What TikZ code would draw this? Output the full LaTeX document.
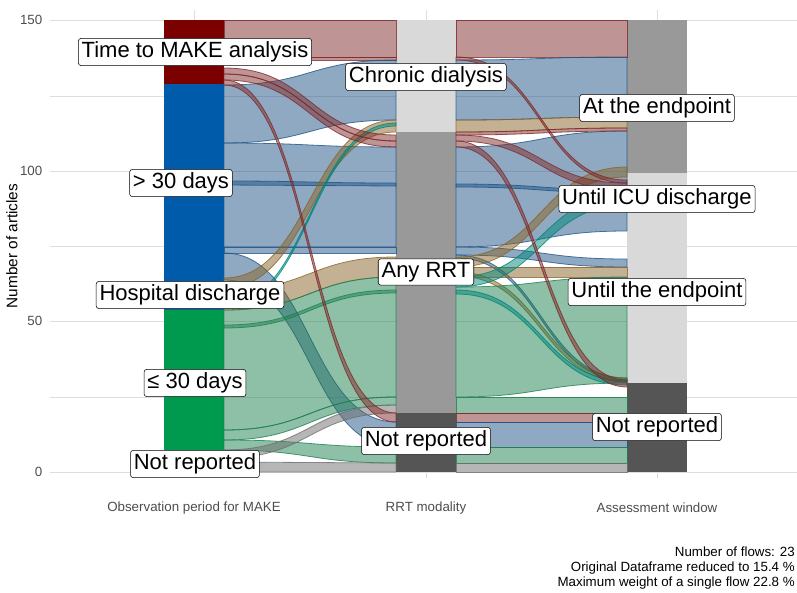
\documentclass[tikz,border=0pt]{standalone}
\usepackage{fontspec}
\setmainfont{Liberation Sans}
\usepackage{tikz}

\definecolor{redS}{HTML}{7B0000}
\definecolor{blueS}{HTML}{005BAA}
\definecolor{greenS}{HTML}{009A4E}
\definecolor{grayS}{HTML}{A0A0A0}
\definecolor{lightS}{HTML}{D9D9D9}
\definecolor{midS}{HTML}{999999}
\definecolor{darkS}{HTML}{555555}
\definecolor{redF}{HTML}{7E2A2A}
\definecolor{blueF}{HTML}{1F5485}
\definecolor{greenF}{HTML}{1E8050}
\definecolor{brownF}{HTML}{8A6428}
\definecolor{tealF}{HTML}{00857A}
\definecolor{grayF}{HTML}{6E6E6E}
\definecolor{gridC}{HTML}{DEDEDE}
\definecolor{axisC}{HTML}{4D4D4D}

% flows between the strata (pixel y values)
\newcommand{\flowA}[5]{\filldraw[fill=#5,fill opacity=.5,draw=#5,draw opacity=.8,line width=.6pt]
  (224,#1) .. controls (310,#1) and (310,#3) .. (396,#3) -- (396,#4)
  .. controls (310,#4) and (310,#2) .. (224,#2) -- cycle;}
\newcommand{\flowB}[5]{\filldraw[fill=#5,fill opacity=.5,draw=#5,draw opacity=.8,line width=.6pt]
  (456,#1) .. controls (541,#1) and (541,#3) .. (627,#3) -- (627,#4)
  .. controls (541,#4) and (541,#2) .. (456,#2) -- cycle;}

\begin{document}
\begin{tikzpicture}[x=0.75pt,y=-0.75pt,
  stratlabel/.style={draw=black,fill=white,rounded corners=2pt,font=\fontsize{16.5}{18}\selectfont,inner sep=2.5pt},
  ticklabel/.style={font=\fontsize{10}{12}\selectfont,text=axisC}]
\useasboundingbox (0,0) rectangle (797,593);

% Grid
\foreach \y in {20,96,171,246,321,397,472}
  \draw[gridC,line width=.6pt] (50,\y) -- (797,\y);
\foreach \x in {194,426,657}
  \draw[gridC,line width=.6pt] (\x,10) -- (\x,478);

% Strata
\fill[redS] (164,20) rectangle (224,84);
\fill[blueS] (164,84) rectangle (224,310);
\fill[greenS] (164,310) rectangle (224,450);
\fill[grayS] (164,450) rectangle (224,472);
\fill[lightS] (396,20) rectangle (456,132);
\fill[midS] (396,132) rectangle (456,413);
\fill[darkS] (396,413) rectangle (456,472);
\fill[midS] (627,20) rectangle (687,173);
\fill[lightS] (627,173) rectangle (687,383);
\fill[darkS] (627,383) rectangle (687,472);

% Flows, first stage
\flowA{20}{57}{20}{57}{redF}
\flowA{57}{60}{57}{60}{redF}
\flowA{85}{143}{60}{120}{blueF}
\flowA{143}{247}{147}{247}{blueF}
\flowA{181}{185}{183}{186}{blueF}
\flowA{247}{253}{247}{253}{blueF}
\flowA{253}{280}{422}{447}{blueF}
\flowA{278}{288}{120}{132}{brownF}
\flowA{290}{310}{257}{277}{brownF}
\flowA{305}{308}{123}{126}{tealF}
\flowA{310}{430}{277}{397}{greenF}
\flowA{325}{328}{290}{293}{greenF}
\flowA{430}{440}{397}{405}{greenF}
\flowA{440}{450}{447}{463}{greenF}
\flowA{450}{458}{405}{413}{grayF}
\flowA{462}{472}{463}{472}{grayF}
\flowA{68}{74}{135}{141}{redF}
\flowA{74}{80}{141}{147}{redF}
\flowA{80}{85}{413}{422}{redF}

% Flows, second stage
\flowB{20}{57}{20}{57}{redF}
\flowB{60}{120}{57}{117}{blueF}
\flowB{147}{247}{131}{231}{blueF}
\flowB{184}{187}{190}{193}{blueF}
\flowB{247}{255}{259}{267}{blueF}
\flowB{255}{258}{378}{381}{blueF}
\flowB{120}{132}{117}{128}{brownF}
\flowB{257}{267}{167}{177}{brownF}
\flowB{267}{277}{267}{277}{brownF}
\flowB{272}{276}{378}{382}{brownF}
\flowB{287}{397}{277}{383}{greenF}
\flowB{277}{287}{195}{205}{tealF}
\flowB{290}{294}{381}{385}{tealF}
\flowB{397}{413}{397}{413}{greenF}
\flowB{413}{422}{413}{422}{redF}
\flowB{422}{447}{422}{447}{blueF}
\flowB{447}{463}{447}{463}{greenF}
\flowB{463}{472}{463}{472}{grayF}
\flowB{57}{60}{180}{183}{redF}
\flowB{132}{135}{128}{131}{redF}
\flowB{135}{141}{183}{190}{redF}
\flowB{141}{147}{380}{387}{redF}

% Stratum labels
\node[stratlabel] (time) at (195,52) {Time to MAKE analysis};
\node[stratlabel] (long) at (181,183) {> 30 days};
\node[stratlabel] (hosp) at (190,295) {Hospital discharge};
\node[stratlabel] (short) at (195,383) {≤ 30 days};
\node[stratlabel] (nrA) at (195,464) {Not reported};
\node[stratlabel] (chronic) at (426,77) {Chronic dialysis};
\node[stratlabel] (anyrrt) at (426,272) {Any RRT};
\node[stratlabel] (nrB) at (426,441) {Not reported};
\node[stratlabel] (endpt) at (657,108) {At the endpoint};
\node[stratlabel] (icu) at (657,199) {Until ICU discharge};
\node[stratlabel] (until) at (657,292) {Until the endpoint};
\node[stratlabel] (nrC) at (657,427) {Not reported};

% Axes
\foreach \v/\y in {0/472,50/321,100/171,150/20}
  \node[ticklabel,anchor=east] (tick\v) at (47,\y) {\v};
\node[font=\fontsize{11.5}{13}\selectfont,rotate=90] (ylab) at (12,246) {Number of articles};
\node[ticklabel] (xA) at (194,508) {Observation period for MAKE};
\node[ticklabel] (xB) at (426,508) {RRT modality};
\node[ticklabel] (xC) at (657,508) {Assessment window};

% Caption
\node[font=\fontsize{10}{11.5}\selectfont,align=right,anchor=south east,inner sep=0pt] (note) at (795,590)
  {Number of flows: 23\\Original Dataframe reduced to 15.4 \%\\Maximum weight of a single flow 22.8 \%};
\end{tikzpicture}
\end{document}
